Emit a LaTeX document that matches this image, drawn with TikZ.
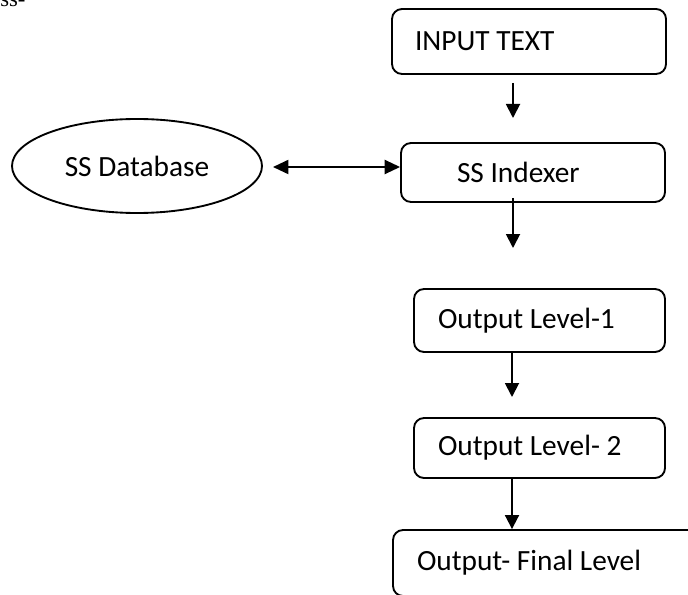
\documentclass[tikz,border=0pt]{standalone}
\usepackage{fontspec}
\setmainfont{Carlito}
\newfontfamily\serifcut{Liberation Serif}
\usetikzlibrary{arrows.meta,shapes.geometric}

\tikzset{
  boxfont/.style={font=\fontsize{22pt}{26pt}\selectfont},
  flowbox/.style={draw, rounded corners=7.5pt, line width=1.4pt, align=flush left,
    inner ysep=0pt, boxfont},
  dbshape/.style={draw, ellipse, line width=1.4pt, inner sep=0pt, boxfont},
  flowarrow/.style={line width=1.4pt, -{Triangle[width=10.5pt,length=10.5pt]}},
  linkarrow/.style={line width=1.4pt,
    {Triangle[width=10.5pt,length=11.5pt]}-{Triangle[width=10.5pt,length=11.5pt]}}
}

\begin{document}
\begin{tikzpicture}[x=0.75pt, y=-0.75pt]
  \useasboundingbox (0,0) rectangle (688,595);
  \clip (0,0) rectangle (688,595);

  % fragment of the preceding line of text
  \node[font=\serifcut\fontsize{17pt}{20pt}\selectfont, anchor=base west,
        inner sep=0pt] (cut) at (0,7) {ss-};

  % boxes of the flow
  \node[flowbox, text width=171pt, inner xsep=17.25pt, minimum height=48.75pt]
    (input) at (529,41.5) {INPUT TEXT};
  \node[flowbox, text width=114pt, inner xsep=42pt, minimum height=44.25pt]
    (indexer) at (533,172.5) {SS Indexer};
  \node[flowbox, text width=152.25pt, inner xsep=18pt, minimum height=47.25pt]
    (lvlone) at (539.5,320.5) {Output Level-1};
  \node[flowbox, text width=152.25pt, inner xsep=18pt, minimum height=45pt]
    (lvltwo) at (539.5,448) {Output Level- 2};
  \node[flowbox, text width=209.25pt, inner xsep=18pt, minimum height=49.5pt]
    (final) at (556.5,563) {Output- Final Level};

  % database
  \node[dbshape, minimum width=187.5pt, minimum height=70.5pt]
    (db) at (137,166) {SS Database};

  % arrow end points
  \coordinate (tipa) at (513,118);
  \coordinate (tipb) at (513,248);
  \coordinate (tipc) at (512,397);
  \coordinate (dbend) at (273,167);

  % connectors
  \draw[flowarrow, shorten <=6pt] (input.south -| tipa) -- (tipa);
  \draw[flowarrow, shorten <=-3.75pt] (indexer.south -| tipb) -- (tipb);
  \draw[flowarrow] (lvlone.south -| tipc) -- (tipc);
  \draw[flowarrow] (lvltwo.south -| tipc) -- (final.north -| tipc);
  \draw[linkarrow] (dbend) -- (indexer.west |- dbend);
\end{tikzpicture}
\end{document}
